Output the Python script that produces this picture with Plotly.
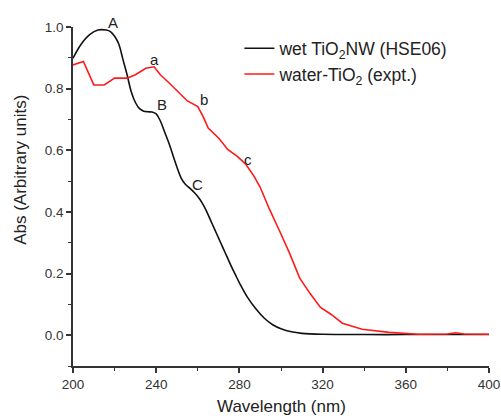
import plotly.graph_objects as go

# Data
wl_calc = [200, 204, 208, 212, 216, 218, 220, 222, 224, 226, 228, 230, 232, 234, 236, 238, 240,
           242, 244, 246, 248, 250, 252, 254, 256, 258, 260, 262, 264, 266, 268, 270, 272, 274,
           276, 278, 280, 284, 288, 292, 296, 300, 305, 310, 320, 340, 360, 380, 400]
abs_calc = [0.899, 0.945, 0.975, 0.99, 0.99, 0.985, 0.97, 0.945, 0.895, 0.845, 0.79, 0.755, 0.735,
            0.727, 0.725, 0.724, 0.718, 0.695, 0.66, 0.625, 0.585, 0.545, 0.51, 0.49, 0.478, 0.465,
            0.45, 0.43, 0.405, 0.375, 0.345, 0.315, 0.285, 0.255, 0.225, 0.197, 0.17, 0.122, 0.085,
            0.055, 0.034, 0.021, 0.011, 0.006, 0.003, 0.002, 0.002, 0.002, 0.002]

wl_expt = [200, 205, 210, 215, 220, 226, 230, 235, 239, 242, 246, 251, 255, 260, 262.5, 265, 270,
           274.5, 279, 283, 287, 290, 294.5, 299, 304, 309, 314, 319, 324, 329.5, 339, 352, 366,
           380, 384, 388, 400]
abs_expt = [0.877, 0.888, 0.812, 0.812, 0.834, 0.834, 0.845, 0.866, 0.871, 0.845, 0.82, 0.787,
            0.76, 0.742, 0.71, 0.672, 0.64, 0.602, 0.58, 0.555, 0.516, 0.48, 0.408, 0.343, 0.268,
            0.185, 0.135, 0.09, 0.068, 0.039, 0.019, 0.009, 0.003, 0.004, 0.008, 0.004, 0.003]

peak_labels = ["A", "B", "C", "a", "b", "c"]
peak_x = [219, 243, 260, 239, 263, 284]
peak_y = [1.016, 0.75, 0.49, 0.893, 0.764, 0.57]

y_min, y_max = -0.1, 1.0
font = "Liberation Sans, Arial, sans-serif"

fig = go.Figure()
fig.add_trace(go.Scatter(x=wl_calc, y=abs_calc, mode="lines",
                         line=dict(color="#111111", width=1.6, shape="spline"),
                         name="wet TiO<sub>2</sub>NW (HSE06)"))
fig.add_trace(go.Scatter(x=wl_expt, y=abs_expt, mode="lines",
                         line=dict(color="#ff1a1a", width=1.6),
                         name="water-TiO<sub>2</sub> (expt.)"))

for t, x, y in zip(peak_labels, peak_x, peak_y):
    fig.add_annotation(x=x, xref="x", y=(y - y_min) / (y_max - y_min), yref="paper",
                       xanchor="center", yanchor="middle",
                       text=t, showarrow=False, font=dict(family=font, size=15, color="#222"))

# axis titles
fig.add_annotation(x=0.5, xref="paper", y=-0.118, yref="paper", text="Wavelength (nm)",
                   showarrow=False, xanchor="center", yanchor="middle",
                   font=dict(family=font, size=17, color="#222"))
fig.add_annotation(x=-0.128, xref="paper", y=0.578, yref="paper", text="Abs (Arbitrary units)",
                   textangle=-90, showarrow=False, xanchor="center", yanchor="middle",
                   font=dict(family=font, size=17, color="#222"))

axis_common = dict(showline=True, linecolor="#333", linewidth=1.5, ticks="outside", ticklen=5,
                   tickcolor="#333", tickwidth=1.5, showgrid=False, zeroline=False, automargin=False,
                   tickfont=dict(family=font, size=13.5, color="#333"))

fig.update_xaxes(range=[200, 400], dtick=40, tick0=200,
                 minor=dict(ticks="outside", ticklen=3, dtick=20, tickcolor="#333", tickwidth=1.2),
                 **axis_common)
fig.update_yaxes(range=[y_min, y_max], dtick=0.2, tick0=0, tickformat=".1f",
                 minor=dict(ticks="outside", ticklen=3, dtick=0.1, tickcolor="#333", tickwidth=1.2),
                 **axis_common)

fig.update_layout(
    width=501, height=418,
    margin=dict(l=73, r=12, t=27, b=52),
    paper_bgcolor="white", plot_bgcolor="white",
    showlegend=True,
    legend=dict(x=0.40, y=0.99, xanchor="left", yanchor="top", bgcolor="rgba(0,0,0,0)",
                font=dict(family=font, size=17.5, color="#222"), tracegroupgap=0),
)

fig.write_html("out.html", config={"displayModeBar": False},
               post_script="document.body.style.margin='0px';document.body.style.overflow='hidden';")
